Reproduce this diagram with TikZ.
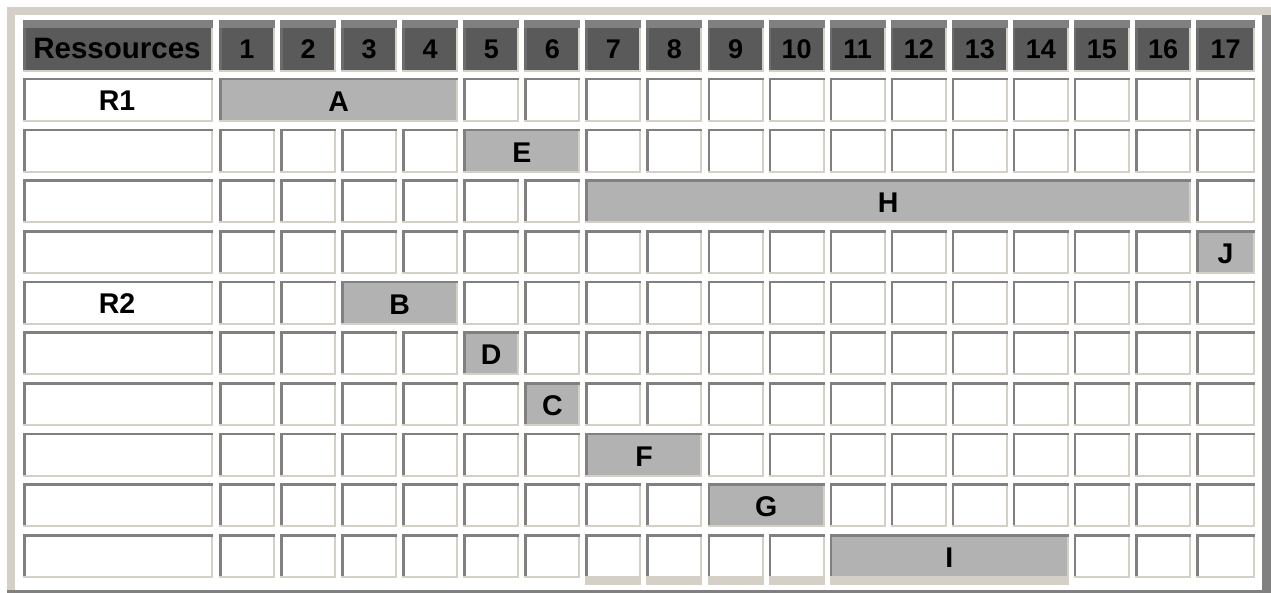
\documentclass[tikz,border=0pt]{standalone}
\usepackage{fontspec}
\setmainfont{Liberation Sans}
\definecolor{lite}{HTML}{D4D0C8}
\definecolor{darkb}{HTML}{808080}
\definecolor{headfill}{HTML}{5A5A5A}
\definecolor{headedge}{HTML}{6C6C6C}
\definecolor{spanfill}{HTML}{B2B2B2}
\newcommand\gcell[5]{%
  \fill[lite] ({#1},{#2}) rectangle ++({#3},{#4});
  \fill[darkb] ({#1},{#2}) rectangle ++({#3},2.5);
  \fill[darkb] ({#1},{#2}) rectangle ++(2.5,{#4-2});
  \fill[#5] ({#1+2.5},{#2+2.5}) rectangle ({#1+#3-2},{#2+#4-2});
}
\newcommand\hcell[3]{% name x w
  \fill[lite] ({#2},20) rectangle ++({#3},52);
  \fill[darkb] ({#2},20) rectangle ++({#3},8.5);
  \fill[headedge] ({#2},28.5) rectangle ({#2+2.5},70);
  \fill[headfill] ({#2+2.5},28.5) rectangle ({#2+#3-2},70);
}
\newcommand\spancell[5]{% name row c1 c2 label
  \pgfmathsetmacro\xa{219+(#3-1)*61.07}
  \pgfmathsetmacro\xb{219+(#4-1)*61.07+(#4==17?59:56)}
  \pgfmathsetmacro\ya{78+(#2-1)*50.67}
  \gcell{\xa}{\ya}{\xb-\xa}{44}{spanfill}
  \node[lbl] (#1) at ({(\xa+\xb)/2},{\ya+33.5}) {#5};
}
\tikzset{
  lbl/.style={font=\fontsize{28.5}{31}\selectfont\bfseries, inner sep=0pt, anchor=base, text=black},
  hlbl/.style={font=\fontsize{27}{30}\selectfont\bfseries, inner sep=0pt, anchor=base, text=black},
  biglbl/.style={font=\fontsize{29.5}{32}\selectfont\bfseries, inner sep=0pt, anchor=base, text=black}
}
\begin{document}
\begin{tikzpicture}[x=1pt,y=-1pt]
\useasboundingbox (0,0) rectangle (1271,593);
\fill[white] (0,0) rectangle (1271,593);
% outer frame
\fill[lite] (7,7) rectangle (1271,15);
\fill[lite] (7,7) rectangle (15,590);
\fill[darkb] (1262,15) rectangle (1271,593);
\fill[darkb] (7,590) rectangle (1271,593);
% header
\hcell{hres}{23}{190}
\node[biglbl] (hR) at (117,58.3) {Ressources};
\foreach \c in {1,...,17}{
  \pgfmathsetmacro\xx{219+(\c-1)*61.07}
  \pgfmathsetmacro\ww{(\c==17?59:56)}
  \hcell{h\c}{\xx}{\ww}
  \node[hlbl] (h\c) at ({\xx+\ww/2},58.3) {\c};
}
% body cells
\foreach \r in {1,...,10}{
  \pgfmathsetmacro\yy{78+(\r-1)*50.67}
  \gcell{23}{\yy}{190}{44}{white}
  \foreach \c in {1,...,17}{
    \pgfmathsetmacro\xx{219+(\c-1)*61.07}
    \pgfmathsetmacro\ww{(\c==17?59:56)}
    \gcell{\xx}{\yy}{\ww}{44}{white}
  }
}
% thicker bottom edge under columns 7 to 14 of the last row
\foreach \c in {7,...,14}{
  \pgfmathsetmacro\xx{219+(\c-1)*61.07}
  \fill[lite] (\xx,576) rectangle ({\xx+56},584.5);
}
% resource labels
\node[lbl] (r1) at (117,110.5) {R1};
\node[lbl] (r2) at ({117},{78+4*50.67+32.5}) {R2};
% tasks
\spancell{tA}{1}{1}{4}{A}
\spancell{tE}{2}{5}{6}{E}
\spancell{tH}{3}{7}{16}{H}
\spancell{tJ}{4}{17}{17}{J}
\spancell{tB}{5}{3}{4}{B}
\spancell{tD}{6}{5}{5}{D}
\spancell{tC}{7}{6}{6}{C}
\spancell{tF}{8}{7}{8}{F}
\spancell{tG}{9}{9}{10}{G}
\spancell{tI}{10}{11}{14}{I}
\fill[lite] ({219+10*61.07},576) rectangle ({219+13*61.07+56},584.5);
\end{tikzpicture}
\end{document}
